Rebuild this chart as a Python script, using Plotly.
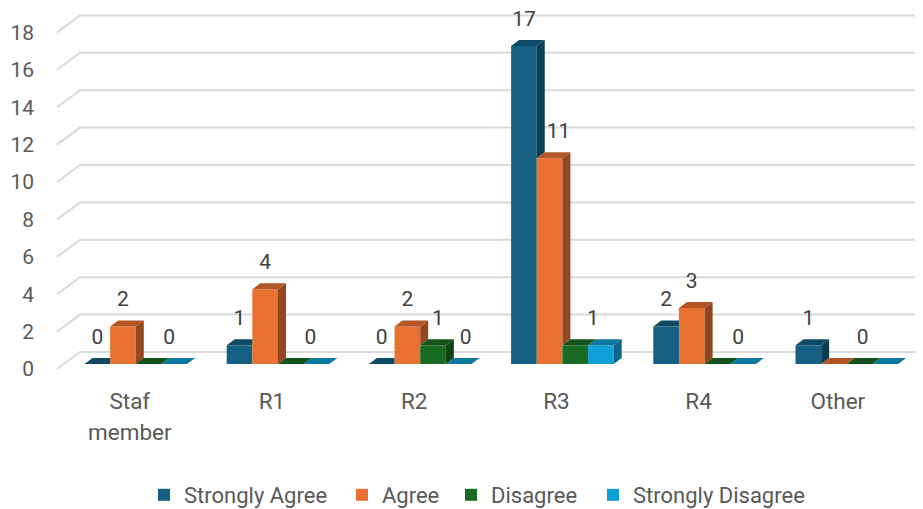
import plotly.graph_objects as go

categories = ["Staf member", "R1", "R2", "R3", "R4", "Other"]
tick_labels = ["Staf<br>member", "R1", "R2", "R3", "R4", "Other"]
series_names = ["Strongly Agree", "Agree", "Disagree", "Strongly Disagree"]
strongly_agree = [0, 1, 0, 17, 2, 1]
agree = [2, 4, 2, 11, 3, 0]
disagree = [0, 0, 1, 1, 0, 0]
strongly_disagree = [0, 0, 0, 1, 0, 0]
y_ticks = [0, 2, 4, 6, 8, 10, 12, 14, 16, 18]

values = [strongly_agree, agree, disagree, strongly_disagree]
front = ["#156082", "#E97132", "#196B24", "#0F9ED5"]
top = ["#104A64", "#B35626", "#13521B", "#0B78A2"]
side = ["#0D3D52", "#94471F", "#0F4316", "#0A6587"]

# labels the reference leaves out, as (series, category)
hidden_labels = {(2, 0), (2, 1), (2, 3), (2, 4), (1, 5), (3, 5)}
# sideways label nudges in pixels, as (series, category)
label_nudge = {(3, 0): -5, (3, 1): -6, (2, 2): 5, (3, 2): 7, (1, 3): 9,
               (3, 3): -8, (3, 4): -5, (2, 5): 3}
# sideways nudges of the category labels, in pixels
tick_nudge = [-6, -6, -6, -6, -6, -9]

OFF = 8           # the page's own margin
W, H = 923 - OFF, 509 - OFF
PX_X = 142.2      # pixels per category
PX_Y = 18.7       # pixels per value unit
X0 = 135.8 - OFF  # pixel of first category centre
Y0 = 364 - OFF    # pixel of value zero, front plane
LEFT = 35 - OFF
BOTTOM = 383 - OFF
bar_w = 25.65 / PX_X
dx = 8 / PX_X
dy = 6 / PX_Y
wall_dx = 23 / PX_X
wall_front_y = -5 / PX_Y
wall_back_y = 12 / PX_Y
wall_left = (57 - OFF - X0) / PX_X
x_range = [(LEFT - X0) / PX_X, (W - X0) / PX_X]
y_range = [(Y0 - BOTTOM) / PX_Y, Y0 / PX_Y]
legend_left = [157 - OFF - 13, 355 - OFF - 13, 464 - OFF - 13, 606 - OFF - 13]
legend_keys = ["legend", "legend2", "legend3", "legend4"]

fig = go.Figure()

# front faces
for j, name in enumerate(series_names):
    fig.add_trace(go.Bar(
        x=[i + (j - 1.5) * bar_w for i in range(len(categories))],
        y=values[j], width=bar_w, name=name, legend=legend_keys[j],
        marker=dict(color=front[j], line=dict(width=0)), hoverinfo="skip"))

# side and top faces
for j in range(len(series_names)):
    sx, sy, tx, ty = [], [], [], []
    for i, v in enumerate(values[j]):
        l = i + (j - 2) * bar_w
        r = l + bar_w
        nxt = values[j + 1][i] if j < len(series_names) - 1 else 0
        if v > nxt:
            sx += [r, r + dx, r + dx, r, None]
            sy += [v, v + dy, nxt + dy, nxt, None]
        if nxt > v:
            tx += [l, r, r, l + dx, None]
            ty += [v, v, v + dy, v + dy, None]
        else:
            tx += [l, r, r + dx, l + dx, None]
            ty += [v, v, v + dy, v + dy, None]
    fig.add_trace(go.Scatter(x=sx, y=sy, mode="lines", fill="toself", fillcolor=side[j],
                             line=dict(width=0), showlegend=False, hoverinfo="skip"))
    fig.add_trace(go.Scatter(x=tx, y=ty, mode="lines", fill="toself", fillcolor=top[j],
                             line=dict(width=0), showlegend=False, hoverinfo="skip"))

# data labels
lx, ly, lt = [], [], []
for j in range(len(series_names)):
    for i, v in enumerate(values[j]):
        if (j, i) in hidden_labels:
            continue
        lx.append(i + (j - 1.5) * bar_w + label_nudge.get((j, i), 0) / PX_X)
        ly.append(v + 25.5 / PX_Y)
        lt.append(str(v))
fig.add_trace(go.Scatter(x=lx, y=ly, text=lt, mode="text", showlegend=False, hoverinfo="skip",
                         textposition="middle center", cliponaxis=False,
                         textfont=dict(family="Roboto", size=21, color="#404040")))

# stepped gridlines on the wall
for t in y_ticks:
    fig.add_shape(type="path", layer="below", xref="x", yref="y",
                  path=f"M {wall_left} {t + wall_front_y} L {wall_left + wall_dx} {t + wall_back_y} "
                       f"L {x_range[1]} {t + wall_back_y}",
                  line=dict(color="#DADADA", width=2))

legends = {key: dict(orientation="h", xanchor="left", x=legend_left[k] / W, yanchor="middle",
                     y=(BOTTOM - (495 - OFF)) / BOTTOM, font=dict(size=22),
                     bgcolor="rgba(0,0,0,0)", itemclick=False, itemdoubleclick=False)
           for k, key in enumerate(legend_keys)}

fig.update_layout(
    width=W, height=H, autosize=False, barmode="overlay",
    margin=dict(l=0, r=0, t=0, b=H - BOTTOM, autoexpand=False),
    paper_bgcolor="white", plot_bgcolor="white",
    font=dict(family="Roboto", size=21, color="#595959"),
    xaxis=dict(domain=[LEFT / W, 1], range=x_range, tickmode="array",
               tickvals=[i + tick_nudge[i] / PX_X for i in range(len(categories))],
               ticktext=[f'<span style="font-size:22.5px">{t}</span>' for t in tick_labels],
               tickfont=dict(size=24.5, color="#595959"),
               showgrid=False, zeroline=False, showline=False, ticks=""),
    yaxis=dict(range=y_range, tickmode="array",
               tickvals=[t + wall_front_y for t in y_ticks],
               ticktext=[str(t) for t in y_ticks],
               showgrid=False, zeroline=False, showline=False, ticks=""),
    **legends,
)
fig.write_html("out.html")
